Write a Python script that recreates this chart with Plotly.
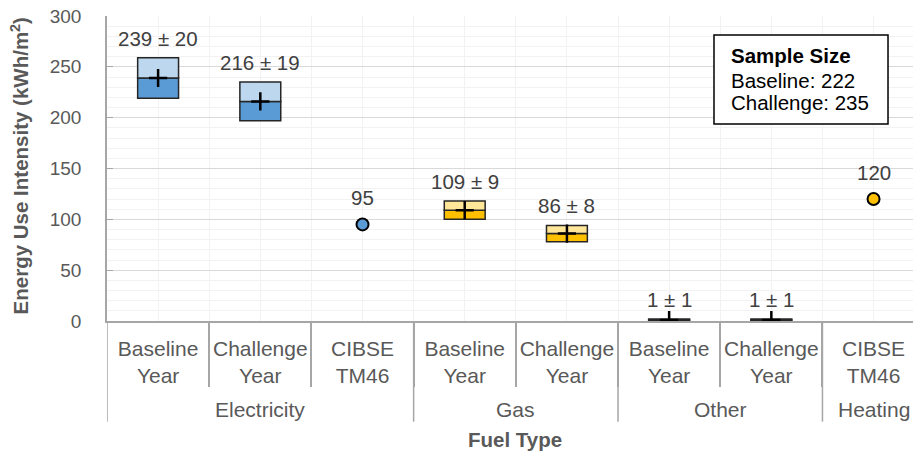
import plotly.graph_objects as go

# ---- data ----
categories = ["Baseline<br>Year", "Challenge<br>Year", "CIBSE<br>TM46",
              "Baseline<br>Year", "Challenge<br>Year",
              "Baseline<br>Year", "Challenge<br>Year",
              "CIBSE<br>TM46"]
groups = ["Electricity", "Gas", "Other", "Heating"]
group_sizes = [3, 2, 2, 1]

elec_idx = [0, 1]
elec_mean = [239, 216]
elec_err = [20, 19]

gas_idx = [3, 4]
gas_mean = [109, 86]
gas_err = [9, 8]

other_idx = [5, 6]
other_mean = [1, 1]
other_err = [1, 1]

bench_elec_idx = [2]
bench_elec = [95]
bench_heat_idx = [7]
bench_heat = [120]

sample_baseline = 222
sample_challenge = 235

FONT = "Liberation Sans, Arial, sans-serif"
GRAY = "#595959"
fig = go.Figure()

series = [
    (elec_idx, elec_mean, elec_err, "#5B9BD5", "#BDD7EE"),
    (gas_idx, gas_mean, gas_err, "#FFC000", "#FFE699"),
    (other_idx, other_mean, other_err, "#A5A5A5", "#DBDBDB"),
]
annotations = []
for idx, mean, err, dark, light in series:
    fig.add_trace(go.Bar(x=idx, y=err, base=[m - e for m, e in zip(mean, err)],
                         width=0.4, marker=dict(color=dark, line=dict(color="#262626", width=1.5)),
                         showlegend=False, hoverinfo="skip"))
    fig.add_trace(go.Bar(x=idx, y=err, base=mean,
                         width=0.4, marker=dict(color=light, line=dict(color="#262626", width=1.5)),
                         showlegend=False, hoverinfo="skip"))
    fig.add_trace(go.Scatter(x=idx, y=mean, mode="markers",
                             marker=dict(symbol="cross-thin", size=13,
                                         line=dict(color="black", width=2.5)),
                             showlegend=False, hoverinfo="skip"))
    for i, m, e in zip(idx, mean, err):
        annotations.append(dict(x=i, y=m + e, xref="x", yref="y", text=f"{m} ± {e}",
                                showarrow=False, yanchor="bottom", yshift=6,
                                font=dict(size=20.5, color="#404040", family=FONT)))

for idx, vals, col in [(bench_elec_idx, bench_elec, "#5B9BD5"), (bench_heat_idx, bench_heat, "#FFC000")]:
    fig.add_trace(go.Scatter(x=idx, y=vals, mode="markers",
                             marker=dict(symbol="circle", size=12, color=col,
                                         line=dict(color="black", width=2)),
                             showlegend=False, hoverinfo="skip"))
    for i, v in zip(idx, vals):
        annotations.append(dict(x=i, y=v, xref="x", yref="y", text=f"{v}",
                                showarrow=False, yanchor="bottom", yshift=13,
                                font=dict(size=20.5, color="#404040", family=FONT)))

# group labels & dividers
shapes = []
start = 0
for g, n in zip(groups, group_sizes):
    center = start + (n - 1) / 2
    annotations.append(dict(x=center, y=-0.289, xref="x", yref="paper", text=g,
                            showarrow=False, yanchor="middle",
                            font=dict(size=21, color=GRAY, family=FONT)))
    shapes.append(dict(type="line", xref="x", yref="paper", x0=start - 0.5, x1=start - 0.5,
                       y0=0, y1=-0.33, line=dict(color="#A6A6A6", width=1.5)))
    start += n

annotations.append(dict(x=0.506, y=-0.39, xref="paper", yref="paper", text="<b>Fuel Type</b>",
                        showarrow=False, yanchor="middle",
                        font=dict(size=20.5, color=GRAY, family=FONT)))
annotations.append(dict(x=-0.108, y=0.51, xref="paper", yref="paper",
                        text="<b>Energy Use Intensity (kWh/m<sup>2</sup>)</b>",
                        textangle=-90, showarrow=False, xanchor="center", yanchor="middle",
                        font=dict(size=20.5, color=GRAY, family=FONT)))

# sample size box
shapes.append(dict(type="rect", xref="paper", yref="paper", x0=0.7531, x1=0.969, y0=0.646, y1=0.938,
                   fillcolor="white", line=dict(color="black", width=1.5), layer="above"))
legend_lines = ["<b>Sample Size</b>", f"Baseline: {sample_baseline}", f"Challenge: {sample_challenge}"]
for txt, yy in zip(legend_lines, [0.872, 0.790, 0.715]):
    annotations.append(dict(x=0.7717, y=yy, xref="paper", yref="paper", xanchor="left", yanchor="middle",
                            text=txt, showarrow=False,
                            font=dict(size=20.5, color="black", family=FONT)))

positions = list(range(len(categories)))
boundaries = [p + 0.5 for p in positions]

fig.update_layout(
    width=914, height=453,
    margin=dict(l=107, r=1, t=16, b=132),
    paper_bgcolor="white", plot_bgcolor="white",
    barmode="overlay",
    font=dict(family=FONT, color=GRAY),
    annotations=annotations, shapes=shapes,
    xaxis=dict(range=[-0.5, 7.386], tickvals=positions, ticktext=categories,
               showgrid=True, gridcolor="#F2F2F2", ticks="", zeroline=False,
               showline=True, linecolor="#A6A6A6", linewidth=1.5,
               tickfont=dict(size=21, color=GRAY, family=FONT), ticklabelstandoff=8,
               minor=dict(tickvals=boundaries, showgrid=True, gridcolor="#F2F2F2",
                          ticks="outside", ticklen=64, tickcolor="#A6A6A6", tickwidth=1.5)),
    yaxis=dict(range=[0, 300], dtick=50, showgrid=True, gridcolor="#D9D9D9", zeroline=False,
               showline=True, linecolor="#A6A6A6", linewidth=1.5,
               ticks="inside", ticklen=6, tickcolor="#A6A6A6", ticklabeloverflow="allow",
               tickfont=dict(size=19, color=GRAY, family=FONT), ticklabelstandoff=20,
               minor=dict(dtick=10, showgrid=True, gridcolor="#F2F2F2")),
)

fig.write_html("out.html", config={"displayModeBar": False},
               post_script="document.body.style.margin='0px';")
